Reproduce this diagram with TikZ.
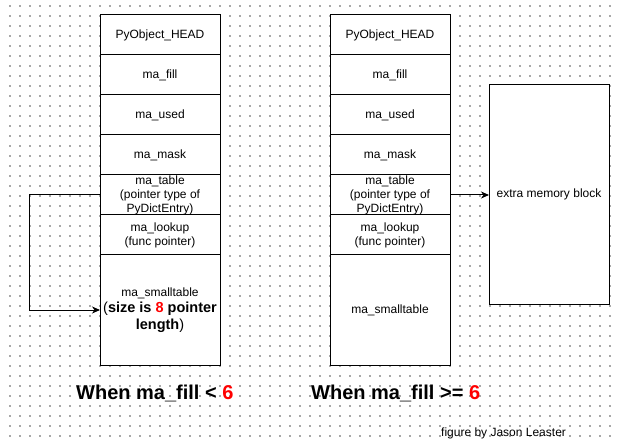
\documentclass[tikz,border=0pt]{standalone}
\usepackage{fontspec}
\setmainfont{Liberation Sans}
\usetikzlibrary{arrows.meta}
\definecolor{gridc}{HTML}{A8A8A8}
\definecolor{redn}{HTML}{FF0000}
\begin{document}
\begin{tikzpicture}[x=1bp,y=-1bp,
  cell/.style={draw=black,fill=white,line width=1bp,minimum width=120bp,inner sep=0pt,outer sep=0pt,align=center,font=\fontsize{12bp}{14bp}\selectfont,text=black},
  slot/.style={cell,minimum height=40bp},
  bigslot/.style={cell,minimum height=110bp},
  conn/.style={draw=black,line width=1bp,-{Stealth[length=8bp,width=7bp,inset=2.5bp]}},
  title/.style={anchor=west,inner sep=0pt,font=\bfseries\fontsize{20bp}{24bp}\selectfont},
  credit/.style={anchor=west,inner sep=0pt,font=\fontsize{12bp}{14bp}\selectfont}
]
\useasboundingbox (0,0) rectangle (624,445);
% canvas grid
\foreach \i in {0,...,60}{
  \foreach \j in {0,...,43}{
    \fill[gridc] (9+10*\i,5+10*\j) rectangle ++(1.6,1.6);
  }
}
% left structure
\node[slot] (L1) at (160,35) {PyObject\_HEAD};
\node[slot] (L2) at (160,75) {ma\_fill};
\node[slot] (L3) at (160,115) {ma\_used};
\node[slot] (L4) at (160,155) {ma\_mask};
\node[slot] (L5) at (160,195) {ma\_table\\(pointer type of\\PyDictEntry)};
\node[slot] (L6) at (160,235) {ma\_lookup\\(func pointer)};
\node[bigslot,font=\fontsize{14.5bp}{16.5bp}\selectfont] (L7) at (160,310) {{\fontsize{12bp}{14bp}\selectfont ma\_smalltable}\\({\bfseries size is {\color{redn}8} pointer}\\{\bfseries length})};
% right structure
\node[slot] (R1) at (390,35) {PyObject\_HEAD};
\node[slot] (R2) at (390,75) {ma\_fill};
\node[slot] (R3) at (390,115) {ma\_used};
\node[slot] (R4) at (390,155) {ma\_mask};
\node[slot] (R5) at (390,195) {ma\_table\\(pointer type of\\PyDictEntry)};
\node[slot] (R6) at (390,235) {ma\_lookup\\(func pointer)};
\node[bigslot] (R7) at (390,310) {ma\_smalltable};
\node[cell,minimum height=219bp] (E) at (549,194.5) {extra memory block};
% connectors
\draw[conn] (L5.west) -- ++(-70,0) |- (L7.west);
\draw[conn] (R5.east) -- (E.west |- R5.east);
% captions
\node[title] (T1) at (76,393) {When ma\_fill < {\color{redn}6}};
\node[title] (T2) at (311,393) {When ma\_fill >= {\color{redn}6}};
\node[credit] (C) at (441,433) {figure by Jason Leaster};
\end{tikzpicture}
\end{document}
